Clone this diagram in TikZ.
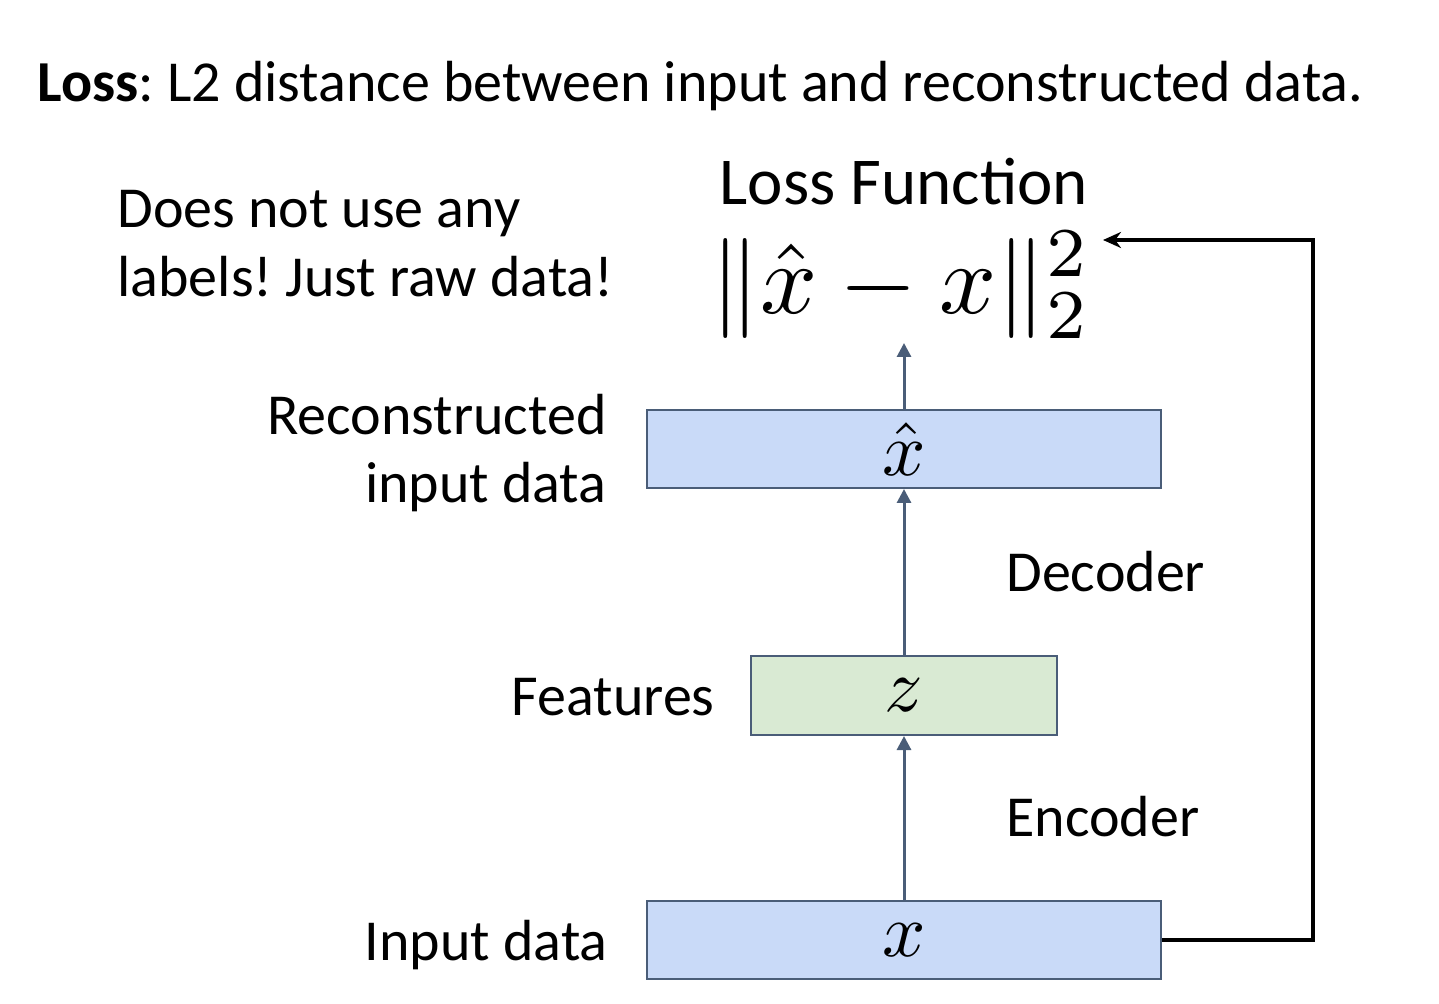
\documentclass[tikz,border=0pt]{standalone}
\usepackage{fontspec}
\setmainfont{Carlito}
\frenchspacing
\usetikzlibrary{arrows.meta}
\definecolor{boxblue}{HTML}{C9DAF8}
\definecolor{boxgreen}{HTML}{D9EAD3}
\definecolor{slate}{HTML}{4A5D78}
\tikzset{
  lbl/.style={font=\fontsize{29}{35}\selectfont, inner sep=0pt},
  stage/.style={draw=slate, line width=1pt, inner sep=0pt},
  mathlbl/.style={inner sep=0pt, scale=3.8},
  flow/.style={draw=slate, line width=1.5pt, -{Triangle[length=7pt,width=7pt]}},
  fb/.style={draw=black, line width=2pt, -{Stealth[length=9pt,width=8pt]}}
}
\begin{document}
\begin{tikzpicture}[x=0.5pt,y=-0.5pt]
\useasboundingbox (0,0) rectangle (1439,1004);
% title
\node[lbl, anchor=base west] (title) at (37,102) {\textbf{Loss}: L2 distance between input and reconstructed data.};
% boxes
\node[stage, fill=boxblue, minimum width=257pt, minimum height=39pt] (xin) at (904,940) {};
\node[stage, fill=boxgreen, minimum width=153pt, minimum height=39.5pt] (z) at (904,695.5) {};
\node[stage, fill=boxblue, minimum width=257pt, minimum height=39pt] (xhat) at (904,449) {};
\node[mathlbl] (xinlbl) at (xin.center) {$x$};
\node[mathlbl] (zlbl) at (z.center) {$z$};
\node[mathlbl] (xhatlbl) at (xhat.center) {$\hat{x}$};
% loss
\node[lbl, anchor=base, font=\fontsize{33.5}{38}\selectfont] (lossf) at (904,205) {Loss Function};
\node[inner sep=0pt, scale=5] (formula) at (901,285) {$\|\hat{x}-x\|_2^2$};
\coordinate (ftop) at (904,343);
\coordinate (fin) at (1103,240);
% side labels
\node[lbl, anchor=base west] (note1) at (117,228) {Does not use any};
\node[lbl, anchor=base west] (note2) at (117,297) {labels! Just raw data!};
\node[lbl, anchor=base east] (rec1) at (607,435) {Reconstructed};
\node[lbl, anchor=base east] (rec2) at (607,503) {input data};
\node[lbl, anchor=base west] (dec) at (1006,592) {Decoder};
\node[lbl, anchor=base east] (feat) at (715,715) {Features};
\node[lbl, anchor=base west] (enc) at (1006,836) {Encoder};
\node[lbl, anchor=base east] (inp) at (608,960) {Input data};
% connectors
\draw[flow] (xin.north) -- (z.south);
\draw[flow] (z.north) -- (xhat.south);
\draw[flow] (xhat.north) -- (ftop);
\draw[fb] (xin.east) -- (1313,940) -- (1313,240) -- (fin);
\end{tikzpicture}
\end{document}
